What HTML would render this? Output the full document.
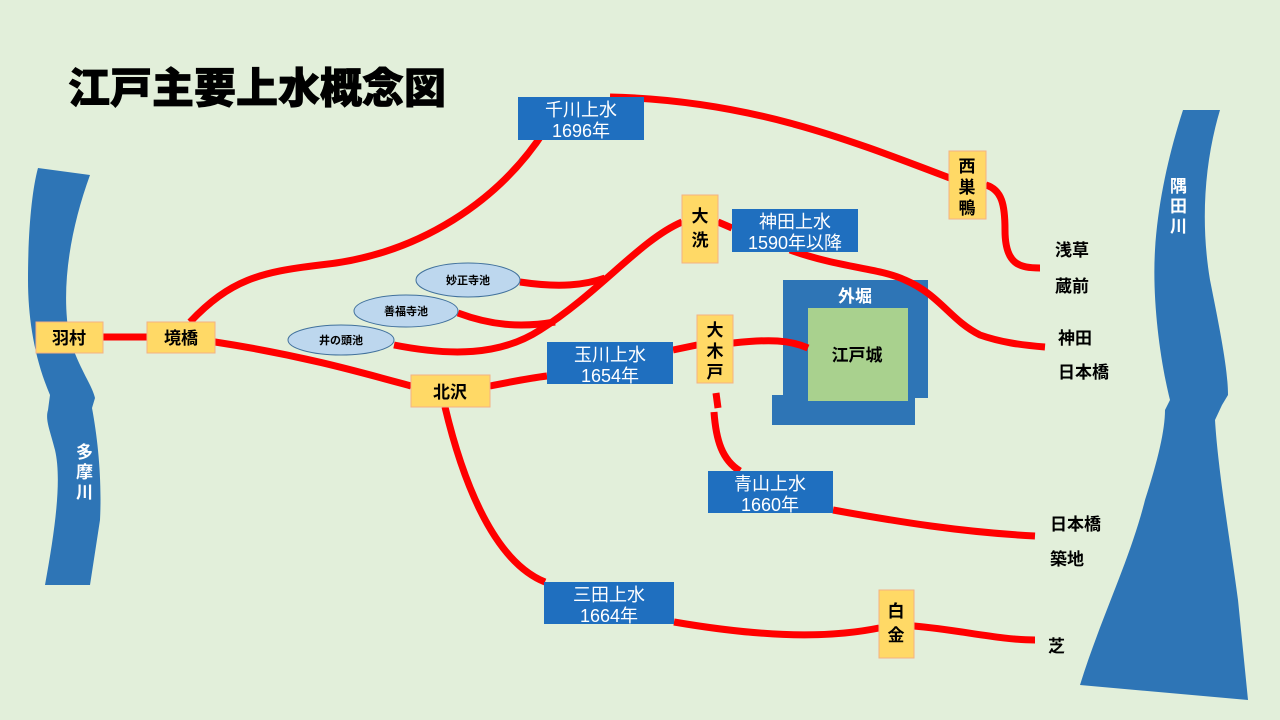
<!DOCTYPE html>
<html><head><meta charset="utf-8"><style>
html,body{margin:0;padding:0;background:#E2EFDA;}
svg{display:block;font-family:"Liberation Sans","Noto Sans CJK JP",sans-serif;}
.lb{font-weight:bold;font-size:17px;fill:#000;}
.wt{font-size:17px;fill:#fff;}
</style></head><body>
<svg width="1280" height="720" viewBox="0 0 1280 720" xmlns="http://www.w3.org/2000/svg">
<rect width="1280" height="720" fill="#E2EFDA"/>
<text x="68" y="103" font-size="42" font-weight="900" fill="#000" stroke="#000" stroke-width="0.8">江戸主要上水概念図</text>
<!-- rivers -->
<path d="M38,168 L90,175 C70,230 60,290 70,340 C80,370 92,385 95,398 L92,408 C98,440 102,480 100,520 L90,585 L45,585 C55,530 62,480 55,450 C50,430 45,420 48,410 L50,395 C35,360 28,320 28,280 C28,230 32,190 38,168 Z" fill="#2E75B6"/>
<path d="M1183,110 L1220,110 C1205,160 1200,220 1210,280 C1220,330 1228,370 1228,395 L1222,405 L1215,420 C1218,470 1230,540 1238,600 L1248,700 L1080,685 C1100,620 1130,560 1145,500 C1158,460 1165,430 1165,410 L1170,400 C1160,360 1152,300 1155,250 C1158,200 1170,150 1183,110 Z" fill="#2E75B6"/>
<text class="wt" font-weight="bold"><tspan x="76" y="458">多</tspan><tspan x="76" y="478">摩</tspan><tspan x="76" y="498">川</tspan></text>
<text class="wt" font-weight="bold"><tspan x="1170" y="192">隅</tspan><tspan x="1170" y="212">田</tspan><tspan x="1170" y="232">川</tspan></text>
<!-- castle -->
<rect x="783" y="280" width="145" height="118" fill="#2E75B6"/>
<rect x="772" y="395" width="143" height="30" fill="#2E75B6"/>
<rect x="808" y="308" width="100" height="93" fill="#A9D18E"/>
<text x="855" y="302" text-anchor="middle" class="wt" font-weight="bold" font-size="16">外堀</text>
<text x="857" y="361" text-anchor="middle" class="lb" font-size="16">江戸城</text>
<!-- red lines -->
<g fill="none" stroke="#FF0000" stroke-width="7" stroke-linecap="butt">
<path d="M103,337 L147,337"/>
<path d="M190,322 C230,280 260,272 320,265 C420,255 500,200 545,130"/>
<path d="M610,97 C750,100 850,140 955,180"/>
<path d="M986,185 C1002,190 1005,205 1005,230 C1005,265 1020,268 1040,268"/>
<path d="M215,342 C300,355 360,372 411,386"/>
<path d="M490,386 C510,382 530,378 547,376"/>
<path d="M673,350 L697,345"/>
<path d="M733,343 C770,339 790,340 808,348"/>
<path d="M716,393 L718,408 M714,412 C716,440 722,460 740,471"/>
<path d="M833,510 C900,522 960,532 1035,536"/>
<path d="M445,407 C460,470 490,560 545,582"/>
<path d="M674,622 C750,635 820,640 879,628"/>
<path d="M914,626 C960,630 1000,640 1035,640"/>
<path d="M394,345 C450,356 500,356 540,330 C600,292 640,240 682,222"/>
<path d="M458,313 C490,325 520,328 555,322"/>
<path d="M520,282 C560,288 585,285 605,278"/>
<path d="M718,222 L732,228"/>
<path d="M790,250 C840,268 880,268 905,280 C940,295 950,320 980,335 C1000,342 1020,345 1045,347"/>
</g>
<!-- ponds -->
<g fill="#BDD7EE" stroke="#41719C" stroke-width="1">
<ellipse cx="468" cy="280" rx="52" ry="17"/>
<ellipse cx="406" cy="311" rx="52" ry="16"/>
<ellipse cx="341" cy="340" rx="53" ry="15"/>
</g>
<g class="lb" font-size="11" text-anchor="middle" style="font-size:11px">
<text x="468" y="284">妙正寺池</text>
<text x="406" y="315">善福寺池</text>
<text x="341" y="344">井の頭池</text>
</g>
<!-- orange boxes -->
<g fill="#FFD966" stroke="#F4B183" stroke-width="1">
<rect x="36" y="322" width="67" height="31"/>
<rect x="147" y="322" width="68" height="31"/>
<rect x="411" y="375" width="79" height="32"/>
<rect x="682" y="195" width="36" height="68"/>
<rect x="949" y="151" width="37" height="68"/>
<rect x="697" y="315" width="36" height="68"/>
<rect x="879" y="590" width="35" height="68"/>
</g>
<g class="lb" text-anchor="middle">
<text x="69" y="344">羽村</text>
<text x="181" y="344">境橋</text>
<text x="450" y="398">北沢</text>
<text x="700" y="222">大</text><text x="700" y="246">洗</text>
<text x="967" y="172">西</text><text x="967" y="193">巣</text><text x="967" y="214">鴨</text>
<text x="715" y="336">大</text><text x="715" y="357">木</text><text x="715" y="378">戸</text>
<text x="896" y="617">白</text><text x="896" y="641">金</text>
</g>
<!-- blue boxes -->
<g fill="#1F6FBF">
<rect x="518" y="97" width="126" height="43"/>
<rect x="732" y="209" width="126" height="43"/>
<rect x="547" y="342" width="126" height="42"/>
<rect x="708" y="471" width="125" height="42"/>
<rect x="544" y="582" width="130" height="42"/>
</g>
<g class="wt" text-anchor="middle" style="font-size:18px">
<text x="581" y="116">千川上水</text><text x="581" y="137">1696年</text>
<text x="795" y="228">神田上水</text><text x="795" y="249">1590年以降</text>
<text x="610" y="361">玉川上水</text><text x="610" y="382">1654年</text>
<text x="770" y="490">青山上水</text><text x="770" y="511">1660年</text>
<text x="609" y="601">三田上水</text><text x="609" y="622">1664年</text>
</g>
<!-- destinations -->
<g class="lb">
<text x="1055" y="256">浅草</text>
<text x="1055" y="292">蔵前</text>
<text x="1058" y="344">神田</text>
<text x="1058" y="378">日本橋</text>
<text x="1050" y="530">日本橋</text>
<text x="1050" y="565">築地</text>
<text x="1048" y="652">芝</text>
</g>
</svg>
</body></html>
